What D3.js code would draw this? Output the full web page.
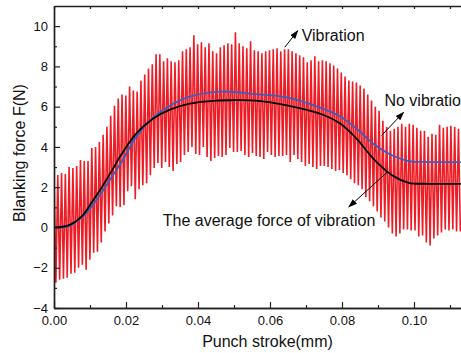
<!DOCTYPE html>
<html>
<head>
<meta charset="utf-8">
<script src="https://cdn.jsdelivr.net/npm/d3@7"></script>
<style>
  body { margin: 0; background: #fff; }
  text { font-family: "Liberation Sans", Arial, sans-serif; fill: #111; }
</style>
</head>
<body>
<div id="chart"></div>
<script>
// Blanking force vs punch stroke

// vibration signal: peak / trough of each cycle
const cycleStep = 0.00105;
const peaks = [2.4,2.6,2.7,2.65,3.0,2.95,3.05,3.35,3.3,3.3,
  3.95,4.0,4.25,4.6,5.0,5.55,6.05,6.4,6.6,6.55,
  7.0,6.8,6.75,7.3,7.6,7.9,8.1,8.6,8.6,8.25,
  8.4,8.25,8.2,8.3,8.75,8.85,8.95,9.55,9.1,9.2,
  8.95,9.15,8.75,8.65,8.95,9.05,9.15,9.1,9.7,9.15,
  9.0,8.9,9.25,8.8,8.75,8.65,8.75,8.8,8.85,8.9,
  8.75,8.85,8.85,8.75,8.65,8.55,8.45,8.2,8.3,8.5,
  8.25,8.3,8.25,8.15,8.05,7.9,7.7,7.5,7.3,7.25,
  7.2,7.05,6.9,6.6,6.3,6.0,5.8,5.3,5.0,4.8,
  4.9,5.0,5.15,5.0,5.15,5.1,4.95,4.8,4.8,4.5,
  4.65,4.6,5.1,4.95,5.0,5.05,5.0,4.9];
const troughs = [-2.75,-2.6,-2.55,-2.5,-2.3,-2.25,-2.0,-1.85,-2.1,-1.6,
  -1.25,-1.2,-0.75,-0.2,0.2,0.6,1.05,1.0,1.1,1.8,
  2.05,1.4,1.9,2.1,2.2,2.6,2.95,3.2,2.95,3.25,
  3.0,2.8,3.15,3.25,3.6,3.75,4.0,3.65,3.6,4.0,
  3.5,3.3,3.45,3.55,3.5,3.6,3.95,3.75,3.75,3.8,
  3.6,3.5,3.7,3.55,3.5,3.4,3.75,3.6,3.5,3.55,
  3.55,3.6,3.25,3.6,3.4,3.25,3.05,3.15,3.0,2.9,
  3.05,3.05,3.0,2.9,2.8,2.85,2.7,2.6,2.4,2.2,
  2.1,1.9,1.5,1.3,1.05,0.8,0.5,0.3,0.0,-0.3,
  -0.45,-0.3,-0.1,-0.1,-0.15,-0.15,-0.45,-0.4,-0.75,-0.9,
  -0.55,-0.4,-0.25,-0.1,-0.15,-0.1,-0.2,-0.2];

// average force of vibration
const avgX = [0, 0.004, 0.0077, 0.0105, 0.0133, 0.016, 0.0188, 0.023, 0.0275, 0.0322, 0.0377, 0.045, 0.05, 0.056, 0.065, 0.0747, 0.0796, 0.0841, 0.0888, 0.0943, 0.0985, 0.104, 0.113];
const avgY = [0, 0.1, 0.55, 1.25, 2.0, 2.8, 3.65, 4.7, 5.4, 5.85, 6.15, 6.3, 6.32, 6.3, 6.05, 5.6, 5.15, 4.4, 3.4, 2.55, 2.22, 2.17, 2.17];

// no vibration
const noVibX = [0, 0.004, 0.0077, 0.0105, 0.0133, 0.016, 0.0188, 0.023, 0.0275, 0.0322, 0.0377, 0.0464, 0.056, 0.065, 0.0747, 0.0796, 0.0841, 0.0888, 0.0943, 0.0985, 0.104, 0.113];
const noVibY = [0, 0.05, 0.5, 1.05, 1.75, 2.5, 3.25, 4.55, 5.45, 6.05, 6.5, 6.75, 6.62, 6.45, 5.9, 5.5, 4.9, 4.15, 3.55, 3.3, 3.25, 3.25];

const xTicks = [0, 0.02, 0.04, 0.06, 0.08, 0.10];
const xMinor = [0.01, 0.03, 0.05, 0.07, 0.09, 0.11];
const yTicks = [-4, -2, 0, 2, 4, 6, 8, 10];
const yMinor = [-3, -1, 1, 3, 5, 7, 9];

const W = 461, H = 353;
const box = {left: 54, right: 461, top: 6, bottom: 308};

const svg = d3.select("#chart").append("svg")
  .attr("width", W).attr("height", H);

const x = d3.scaleLinear().domain([0, (box.right - box.left) / 3600]).range([box.left, box.right]);
const y = d3.scaleLinear().domain([-4, 11]).range([box.bottom, box.top]);

svg.append("clipPath").attr("id", "plot")
  .append("rect").attr("x", box.left).attr("y", box.top)
  .attr("width", box.right - box.left).attr("height", box.bottom - box.top);

// zigzag of the vibration signal
const vib = [];
peaks.forEach((p, i) => {
  vib.push([i * cycleStep, p]);
  vib.push([(i + 0.5) * cycleStep, troughs[i]]);
});

const line = d3.line().x(d => x(d[0])).y(d => y(d[1]));
const smooth = d3.line().x(d => x(d[0])).y(d => y(d[1])).curve(d3.curveCatmullRom.alpha(0.5));

const plot = svg.append("g").attr("clip-path", "url(#plot)");
plot.append("path").datum(vib)
  .attr("d", line).attr("fill", "none")
  .attr("stroke", "#ee1c25").attr("stroke-width", 1.6).attr("stroke-linejoin", "miter");

plot.append("path").datum(noVibX.map((v, i) => [v, noVibY[i]]))
  .attr("d", smooth).attr("fill", "none")
  .attr("stroke", "#3c5cbf").attr("stroke-width", 1.8);

plot.append("path").datum(avgX.map((v, i) => [v, avgY[i]]))
  .attr("d", smooth).attr("fill", "none")
  .attr("stroke", "#000").attr("stroke-width", 1.8);

// axes
function styleAxis(g) {
  g.selectAll(".domain").attr("stroke", "#222").attr("stroke-width", 1.4);
  g.selectAll(".tick line").attr("stroke", "#222").attr("stroke-width", 1.2);
  g.selectAll("text").style("font-size", "13px").style("font-family", "Liberation Sans, Arial, sans-serif").attr("fill", "#111");
}

svg.append("g").attr("transform", `translate(0,${box.bottom})`)
  .call(d3.axisBottom(x).tickValues(xTicks).tickFormat(d3.format(".2f"))
    .tickSizeInner(-6).tickSizeOuter(0).tickPadding(8))
  .call(styleAxis);
svg.append("g").attr("transform", `translate(0,${box.bottom})`)
  .call(d3.axisBottom(x).tickValues(xMinor).tickFormat("").tickSizeInner(-3).tickSizeOuter(0))
  .call(styleAxis);

svg.append("g").attr("transform", `translate(0,${box.top})`)
  .call(d3.axisTop(x).tickValues(xTicks.concat(xMinor)).tickFormat("").tickSizeInner(-3).tickSizeOuter(0))
  .call(styleAxis);

svg.append("g").attr("transform", `translate(${box.left},0)`)
  .call(d3.axisLeft(y).tickValues(yTicks).tickSizeInner(-6).tickSizeOuter(0).tickPadding(6))
  .call(styleAxis);
svg.append("g").attr("transform", `translate(${box.left},0)`)
  .call(d3.axisLeft(y).tickValues(yMinor).tickFormat("").tickSizeInner(-3).tickSizeOuter(0))
  .call(styleAxis);

// axis titles
svg.append("text")
  .attr("x", (201 + 334) / 2).attr("y", 347)
  .attr("text-anchor", "middle").style("font-size", "16px")
  .text("Punch stroke(mm)");

svg.append("text")
  .attr("transform", "translate(25,153) rotate(-90)")
  .attr("text-anchor", "middle").style("font-size", "16px")
  .text("Blanking force F(N)");

// annotations
svg.append("defs").append("marker")
  .attr("id", "arrow").attr("viewBox", "0 0 10 10")
  .attr("refX", 9).attr("refY", 5)
  .attr("markerWidth", 9).attr("markerHeight", 9)
  .attr("markerUnits", "userSpaceOnUse")
  .attr("orient", "auto")
  .append("path").attr("d", "M0,1.5 L10,5 L0,8.5 Z").attr("fill", "#000");

const notes = [
  {label: "Vibration", tx: 0.0688, ty: 9.27, x0: 0.0641, y0: 8.95, x1: 0.0677, y1: 9.77},
  {label: "No vibration", tx: 0.0918, ty: 6.02, x0: 0.0910, y0: 4.57, x1: 0.0971, y1: 5.72},
  {label: "The average force of vibration", tx: 0.0302, ty: 0.06, x0: 0.0927, y0: 2.77, x1: 0.0819, y1: 1.02}
];

notes.forEach(n => {
  svg.append("line")
    .attr("x1", x(n.x0)).attr("y1", y(n.y0))
    .attr("x2", x(n.x1)).attr("y2", y(n.y1))
    .attr("stroke", "#000").attr("stroke-width", 1)
    .attr("marker-end", "url(#arrow)");
  svg.append("text")
    .attr("x", x(n.tx)).attr("y", y(n.ty))
    .style("font-size", "16px")
    .text(n.label);
});
</script>
</body>
</html>
